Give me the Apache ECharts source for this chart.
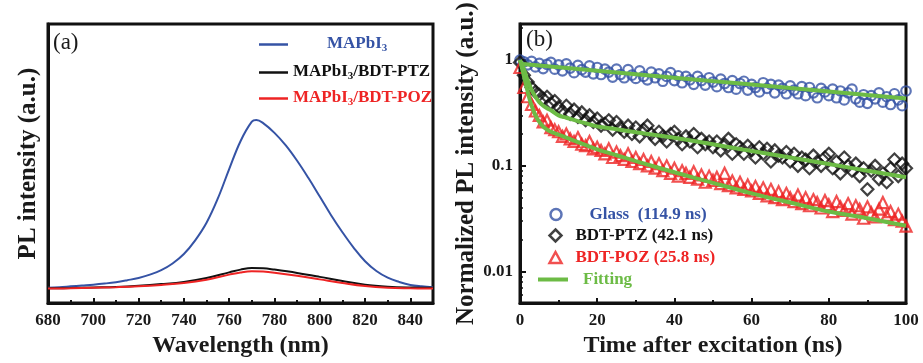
<!DOCTYPE html>
<html><head><meta charset="utf-8">
<script src="https://cdn.jsdelivr.net/npm/echarts@6/dist/echarts.min.js"></script>
<style>html,body{margin:0;padding:0;background:#fff}#c{width:923px;height:363px}</style>
</head><body><div id="c"></div>
<script>
// ---------- Panel (a): PL spectra ----------
const wavelengths = [680,685,690,695,700,705,710,715,720,725,730,735,740,745,750,755,760,765,770,772,775,780,785,790,795,800,805,810,815,820,825,830,835,840,845,850];
const plMAPbI3 = [5.5,5.7,6.0,6.3,6.6,7.0,7.5,8.2,9.0,10.2,11.8,14.2,17.6,22.5,28.8,37.5,48,58,65,65.6,64.5,61,56.5,51,44.8,38.2,31.5,25.4,19.8,15.0,11.5,9.1,7.6,6.5,6.0,5.7];
const wavelengthsB = [680,690,700,710,720,730,740,750,760,765,770,775,780,790,800,810,820,830,840,850];
const plPTZ = [5.3,5.4,5.6,5.8,6.2,6.8,7.6,9.0,11.0,12.0,12.6,12.5,12.0,10.8,9.4,7.9,6.6,5.9,5.6,5.5];
const plPOZ = [5.2,5.3,5.5,5.7,6.0,6.5,7.2,8.4,10.2,11.0,11.4,11.3,10.9,9.8,8.5,7.2,6.1,5.5,5.3,5.2];
const xTicksA = [680,700,720,740,760,780,800,820,840];
const xMinorTicksA = [690,710,730,750,770,790,810,830];

// ---------- Panel (b): TRPL decays ----------
const times = [0,1,2,3,4,5,6,7,8,9,10,11,12,13,14,15,16,17,18,19,20,21,22,23,24,25,26,27,28,29,30,31,32,33,34,35,36,37,38,39,40,41,42,43,44,45,46,47,48,49,50,51,52,53,54,55,56,57,58,59,60,61,62,63,64,65,66,67,68,69,70,71,72,73,74,75,76,77,78,79,80,81,82,83,84,85,86,87,88,89,90,91,92,93,94,95,96,97,98,99,100];
const glass = [1.00,0.96,0.90,0.97,0.86,0.93,0.83,0.91,0.95,0.82,
  0.90,0.79,0.92,0.84,0.76,0.89,0.81,0.77,0.88,0.74,
  0.85,0.73,0.82,0.77,0.69,0.82,0.73,0.68,0.81,0.72,
  0.67,0.79,0.70,0.65,0.77,0.68,0.74,0.63,0.70,0.76,
  0.64,0.71,0.61,0.70,0.65,0.59,0.70,0.64,0.58,0.68,
  0.62,0.56,0.66,0.60,0.55,0.64,0.53,0.60,0.63,0.52,
  0.59,0.55,0.50,0.61,0.54,0.59,0.49,0.58,0.54,0.48,
  0.57,0.52,0.48,0.56,0.46,0.55,0.49,0.44,0.54,0.50,
  0.46,0.53,0.44,0.51,0.42,0.49,0.53,0.43,0.40,0.47,
  0.39,0.46,0.43,0.49,0.40,0.45,0.38,0.48,0.42,0.37,0.51];
const ptz = [0.95,0.72,0.62,0.55,0.50,0.47,0.43,0.45,0.39,0.41,
  0.36,0.33,0.37,0.31,0.34,0.29,0.32,0.27,0.30,0.26,
  0.28,0.24,0.25,0.27,0.22,0.26,0.23,0.21,0.24,0.20,
  0.23,0.19,0.22,0.24,0.20,0.18,0.21,0.19,0.17,0.20,
  0.21,0.18,0.16,0.19,0.17,0.20,0.15,0.18,0.16,0.17,
  0.15,0.17,0.14,0.16,0.18,0.13,0.16,0.15,0.13,0.155,
  0.14,0.12,0.15,0.13,0.145,0.11,0.14,0.125,0.12,0.135,
  0.11,0.13,0.10,0.12,0.115,0.095,0.125,0.11,0.10,0.12,
  0.13,0.095,0.11,0.085,0.12,0.10,0.09,0.105,0.08,0.095,
  0.06,0.09,0.10,0.075,0.085,0.07,0.095,0.115,0.08,0.105,0.095];
const poz = [0.85,0.55,0.45,0.38,0.33,0.30,0.26,0.27,0.23,0.22,
  0.21,0.19,0.20,0.18,0.17,0.185,0.16,0.155,0.17,0.145,
  0.15,0.14,0.13,0.145,0.12,0.135,0.125,0.115,0.13,0.11,
  0.12,0.105,0.115,0.10,0.11,0.095,0.105,0.09,0.10,0.085,
  0.095,0.08,0.09,0.085,0.078,0.088,0.075,0.082,0.07,0.08,
  0.073,0.078,0.068,0.085,0.065,0.072,0.062,0.07,0.06,0.066,
  0.058,0.064,0.055,0.062,0.052,0.06,0.05,0.057,0.048,0.055,
  0.05,0.046,0.053,0.044,0.05,0.042,0.048,0.045,0.04,0.047,
  0.043,0.037,0.046,0.041,0.038,0.044,0.035,0.042,0.039,0.032,
  0.041,0.036,0.033,0.039,0.045,0.034,0.037,0.031,0.035,0.030,0.027];
const fitTimesGlass = [0,10,20,30,40,50,60,70,80,90,100];
const fitGlass = [0.92,0.853,0.791,0.734,0.681,0.632,0.586,0.543,0.504,0.467,0.434];
const fitTimes = [0,1,2,3,4,5,6,7,8,10,12,15,20,25,30,40,50,60,70,80,90,100];
const fitPTZ = [1.0,0.82,0.64,0.52,0.45,0.40,0.37,0.35,0.335,0.30,0.285,0.265,0.236,0.222,0.208,0.184,0.160,0.138,0.120,0.104,0.090,0.078];
const fitPOZ = [1.0,0.71,0.50,0.37,0.30,0.26,0.235,0.22,0.21,0.197,0.185,0.168,0.143,0.126,0.111,0.087,0.069,0.055,0.045,0.037,0.032,0.0272];
const yTicksB = [0.01,0.1,1];
const yTickLabelsB = ['0.01','0.1','1'];
const yMinorTicksB = [0.006,0.007,0.008,0.009,0.02,0.03,0.04,0.05,0.06,0.07,0.08,0.09,0.2,0.3,0.4,0.5,0.6,0.7,0.8,0.9,2];

const SERIF = 'Liberation Serif';
const BLUE = '#3553a5', RED = '#ee2424', BLACK = '#111', GREEN = '#6cbb45';
const pairs = (xs, ys) => xs.map((x, i) => [x, ys[i]]);

const tickLbl = {fontFamily: SERIF, fontWeight: 'bold', fontSize: 17, color: '#1a1a1a'};
const xNameSty = {fontFamily: SERIF, fontWeight: 'bold', fontSize: 24, color: '#1a1a1a'};
const yNameSty = {fontFamily: SERIF, fontWeight: 'bold', fontSize: 25, color: '#1a1a1a'};
const axLine = {show: true, lineStyle: {color: BLACK, width: 3}};

function subRich(color) {
  return {
    m: {fontFamily: SERIF, fontWeight: 'bold', fontSize: 17, color: color, lineHeight: 19, verticalAlign: 'top'},
    mp: {fontFamily: SERIF, fontWeight: 'bold', fontSize: 17, color: color, lineHeight: 19, verticalAlign: 'top', padding: [0,0,0,34]},
    s: {fontFamily: SERIF, fontWeight: 'bold', fontSize: 11, color: color, lineHeight: 11, verticalAlign: 'bottom', padding: [10,0,0,0]}
  };
}
function bRich(color, pad) {
  return {t: {fontFamily: SERIF, fontWeight: 'bold', fontSize: 17, color: color, padding: [0,0,0,pad]}};
}

const chart = echarts.init(document.getElementById('c'), null, {renderer: 'canvas'});
const option = {
  backgroundColor: '#fff',
  animation: false,
  grid: [
    {left: 48, top: 24, width: 385, height: 285, show: true, borderColor: BLACK, borderWidth: 3},
    {left: 520, top: 24, width: 386, height: 284, show: true, borderColor: BLACK, borderWidth: 3}
  ],
  xAxis: [
    {gridIndex: 0, type: 'value', min: 680, max: 850, interval: 20, position: 'bottom',
     axisLine: axLine, splitLine: {show: false},
     axisTick: {inside: true, length: 5, customValues: xTicksA, lineStyle: {color: BLACK, width: 2}},
     axisLabel: {customValues: xTicksA, margin: 9, ...tickLbl},
     name: 'Wavelength (nm)', nameLocation: 'middle', nameGap: 28, nameTextStyle: xNameSty},
    {gridIndex: 0, type: 'value', min: 680, max: 850, position: 'bottom',
     axisLine: {show: false}, splitLine: {show: false}, axisLabel: {show: false},
     axisTick: {inside: true, length: 3, customValues: xMinorTicksA, lineStyle: {color: BLACK, width: 2}}},
    {gridIndex: 1, type: 'value', min: 0, max: 100, interval: 20, position: 'bottom',
     axisLine: axLine, splitLine: {show: false},
     axisTick: {inside: true, length: 5, lineStyle: {color: BLACK, width: 2}},
     minorTick: {show: true, splitNumber: 2, length: 3, lineStyle: {color: BLACK, width: 2}},
     axisLabel: {margin: 9, ...tickLbl},
     name: 'Time after excitation (ns)', nameLocation: 'middle', nameGap: 27, nameTextStyle: xNameSty}
  ],
  yAxis: [
    {gridIndex: 0, type: 'value', min: 0, max: 100, axisLine: axLine, axisTick: {show: false},
     axisLabel: {show: false}, splitLine: {show: false},
     name: 'PL intensity (a.u.)', nameLocation: 'middle', nameGap: 7, nameRotate: 90, nameTextStyle: yNameSty},
    {gridIndex: 1, type: 'log', logBase: 10, min: 0.00505, max: 2.19, position: 'left',
     axisLine: axLine, splitLine: {show: false},
     axisTick: {inside: true, length: 6, customValues: yTicksB, lineStyle: {color: BLACK, width: 2}},
     axisLabel: {customValues: yTicksB, margin: 7, ...tickLbl,
       formatter: v => yTickLabelsB[Math.round(Math.log10(v)) + 2]},
     name: 'Normalized PL intensity (a.u.)', nameLocation: 'middle', nameGap: 37, nameRotate: 90, nameTextStyle: yNameSty},
    {gridIndex: 1, type: 'log', logBase: 10, min: 0.00505, max: 2.19, position: 'left',
     axisLine: {show: false}, splitLine: {show: false}, axisLabel: {show: false},
     axisTick: {inside: true, length: 3, customValues: yMinorTicksB, lineStyle: {color: BLACK, width: 1.5}}}
  ],
  legend: [
    {left: 259, top: 33, padding: 0, selectedMode: false, itemWidth: 29, itemHeight: 2.5,
     data: [{name: 'MAPbI3', icon: 'rect'}],
     formatter: () => '{mp|MAPbI}{s|3}', textStyle: {rich: subRich(BLUE)}},
    {left: 259, top: 61, padding: 0, selectedMode: false, itemWidth: 29, itemHeight: 2.5,
     data: [{name: 'MAPbI3/BDT-PTZ', icon: 'rect'}],
     formatter: () => '{m|MAPbI}{s|3}{m|/BDT-PTZ}', textStyle: {rich: subRich(BLACK)}},
    {left: 259, top: 87, padding: 0, selectedMode: false, itemWidth: 29, itemHeight: 2.5,
     data: [{name: 'MAPbI3/BDT-POZ', icon: 'rect'}],
     formatter: () => '{m|MAPbI}{s|3}{m|/BDT-POZ}', textStyle: {rich: subRich(RED)}},
    {left: 548, top: 206, padding: 0, selectedMode: false, itemWidth: 11, itemHeight: 11,
     data: [{name: 'Glass  (114.9 ns)', icon: 'circle', itemStyle: {color: 'none', borderColor: BLUE, borderWidth: 2.5}}],
     formatter: n => '{t|' + n + '}', textStyle: {rich: bRich(BLUE, 23)}},
    {left: 547, top: 227, padding: 0, selectedMode: false, itemWidth: 12, itemHeight: 12,
     data: [{name: 'BDT-PTZ (42.1 ns)', icon: 'diamond', itemStyle: {color: 'none', borderColor: BLACK, borderWidth: 2.5}}],
     formatter: n => '{t|' + n + '}', textStyle: {rich: bRich(BLACK, 9)}},
    {left: 547, top: 249, padding: 0, selectedMode: false, itemWidth: 12, itemHeight: 11,
     data: [{name: 'BDT-POZ (25.8 ns)', icon: 'triangle', itemStyle: {color: 'none', borderColor: RED, borderWidth: 2.5}}],
     formatter: n => '{t|' + n + '}', textStyle: {rich: bRich(RED, 9)}},
    {left: 538, top: 271, padding: 0, selectedMode: false, itemWidth: 30, itemHeight: 4,
     data: [{name: 'Fitting', icon: 'rect'}],
     formatter: n => '{t|' + n + '}', textStyle: {rich: bRich(GREEN, 10)}}
  ],
  title: [
    {text: '(a)', left: 53, top: 31, padding: 0, textStyle: {fontFamily: SERIF, fontWeight: 'normal', fontSize: 23, color: '#1a1a1a'}},
    {text: '(b)', left: 526, top: 28, padding: 0, textStyle: {fontFamily: SERIF, fontWeight: 'normal', fontSize: 23, color: '#1a1a1a'}}
  ],
  series: [
    {name: 'MAPbI3', type: 'line', xAxisIndex: 0, yAxisIndex: 0, data: pairs(wavelengths, plMAPbI3),
     smooth: 0.4, showSymbol: false, color: BLUE, lineStyle: {width: 2, color: BLUE}},
    {name: 'MAPbI3/BDT-PTZ', type: 'line', xAxisIndex: 0, yAxisIndex: 0, data: pairs(wavelengthsB, plPTZ),
     smooth: 0.4, showSymbol: false, color: BLACK, lineStyle: {width: 2, color: BLACK}},
    {name: 'MAPbI3/BDT-POZ', type: 'line', xAxisIndex: 0, yAxisIndex: 0, data: pairs(wavelengthsB, plPOZ),
     smooth: 0.4, showSymbol: false, color: RED, lineStyle: {width: 2, color: RED}},
    {name: 'Glass  (114.9 ns)', type: 'scatter', xAxisIndex: 2, yAxisIndex: 1, data: pairs(times, glass),
     symbol: 'circle', symbolSize: 9.5, itemStyle: {color: 'none', borderColor: BLUE, borderWidth: 2.2}},
    {name: 'BDT-PTZ (42.1 ns)', type: 'scatter', xAxisIndex: 2, yAxisIndex: 1, data: pairs(times, ptz),
     symbol: 'diamond', symbolSize: 12, itemStyle: {color: 'none', borderColor: BLACK, borderWidth: 2.2}},
    {name: 'BDT-POZ (25.8 ns)', type: 'scatter', xAxisIndex: 2, yAxisIndex: 1, data: pairs(times, poz),
     symbol: 'triangle', symbolSize: 11, itemStyle: {color: 'none', borderColor: RED, borderWidth: 2.2}},
    {name: 'Fitting', type: 'line', xAxisIndex: 2, yAxisIndex: 1, data: pairs(fitTimesGlass, fitGlass),
     smooth: 0.3, showSymbol: false, color: GREEN, lineStyle: {width: 4, color: GREEN}, z: 5},
    {name: 'Fitting', type: 'line', xAxisIndex: 2, yAxisIndex: 1, data: pairs(fitTimes, fitPTZ),
     smooth: 0.3, showSymbol: false, color: GREEN, lineStyle: {width: 4, color: GREEN}, z: 5},
    {name: 'Fitting', type: 'line', xAxisIndex: 2, yAxisIndex: 1, data: pairs(fitTimes, fitPOZ),
     smooth: 0.3, showSymbol: false, color: GREEN, lineStyle: {width: 4, color: GREEN}, z: 5}
  ]
};
chart.setOption(option);
</script></body></html>
